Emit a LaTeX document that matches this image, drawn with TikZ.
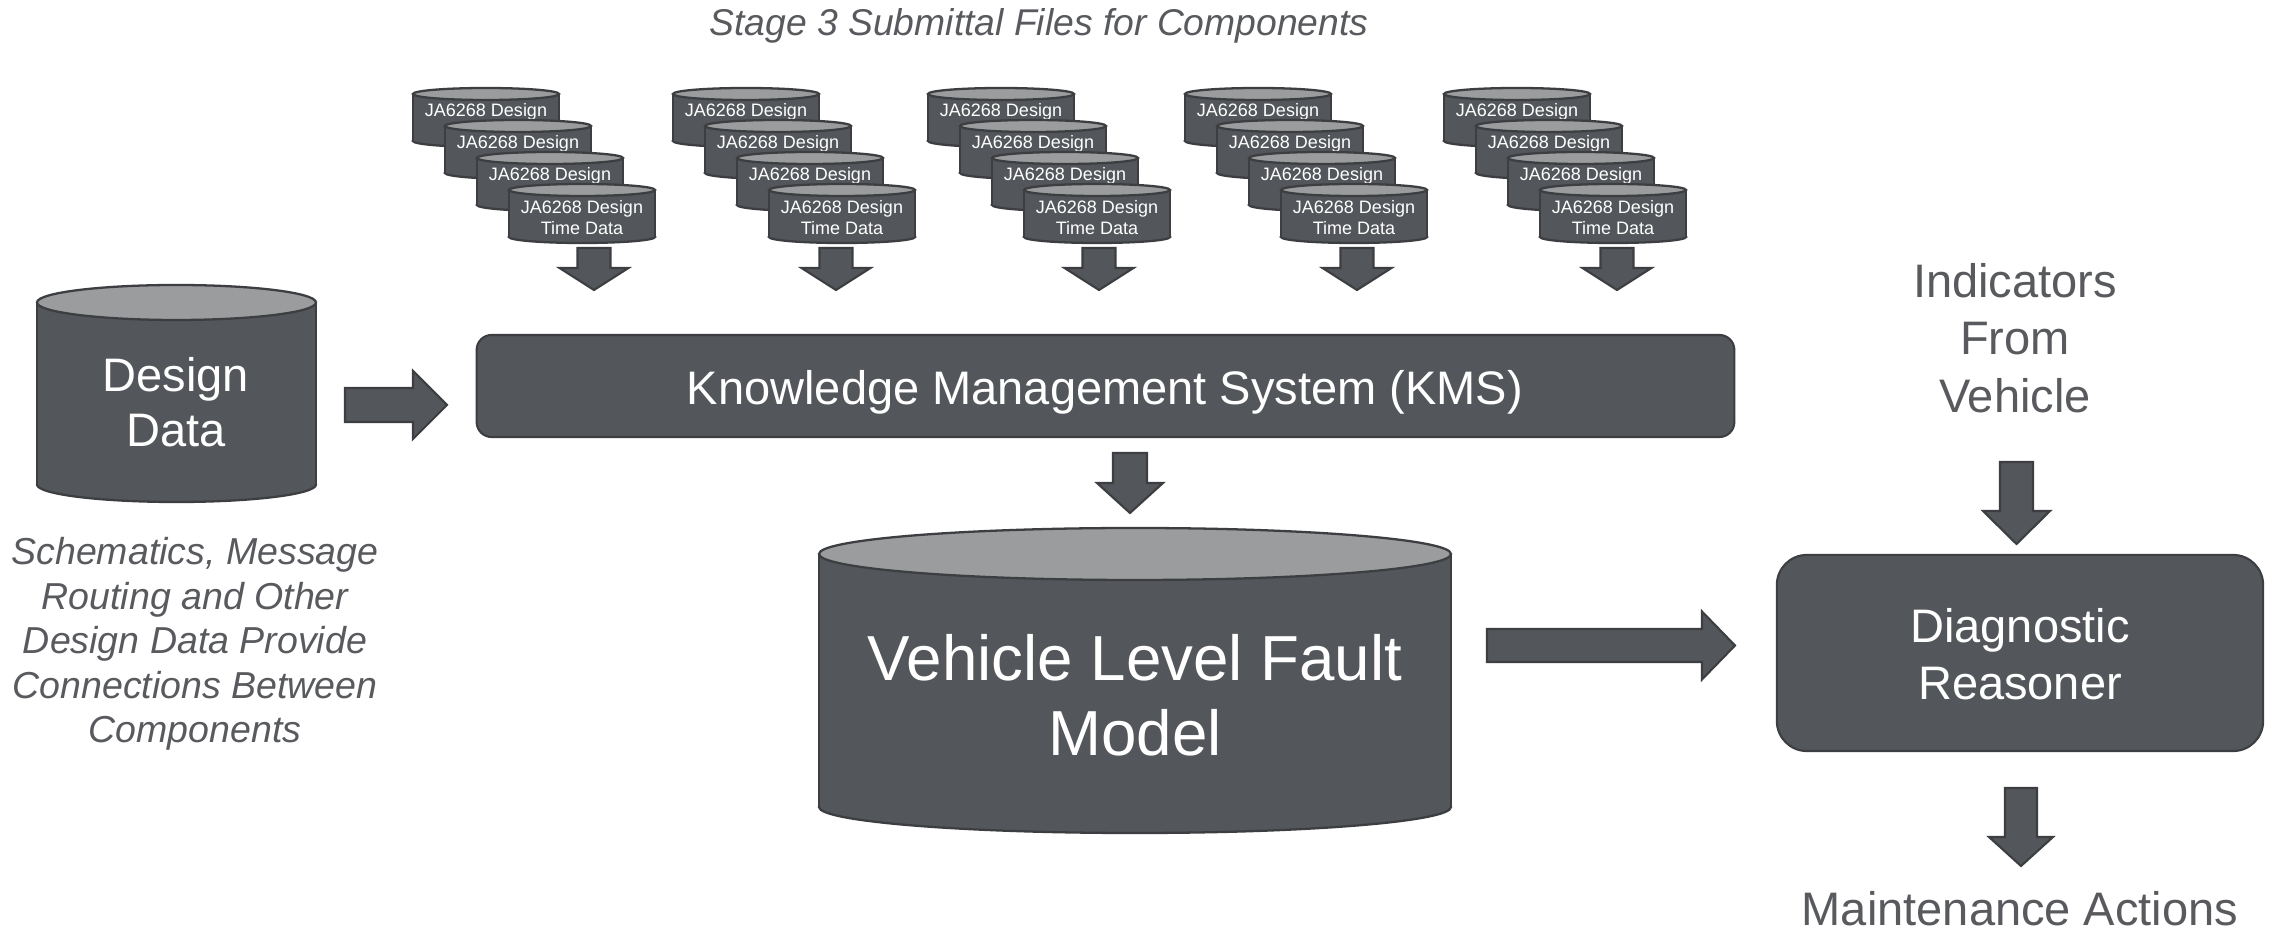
\documentclass[tikz,border=0pt]{standalone}
\usepackage{fontspec}
\setmainfont{Liberation Sans}
\usetikzlibrary{calc}
\definecolor{bodyc}{RGB}{83,86,90}
\definecolor{edgec}{RGB}{60,62,65}
\definecolor{topc}{RGB}{155,156,158}
\definecolor{txtc}{RGB}{88,90,94}
\tikzset{
  cylbody/.style={fill=bodyc, draw=edgec, line width=0.65pt},
  cyltop/.style={fill=topc, draw=edgec, line width=0.65pt},
  blkarrow/.style={fill=bodyc, draw=edgec, line width=0.6pt, line join=miter},
  rbox/.style={fill=bodyc, draw=edgec, line width=0.6pt, inner sep=0pt},
  wtxt/.style={text=white, inner sep=0pt, align=center},
  gtxt/.style={text=txtc, inner sep=0pt, align=center},
  smalltxt/.style={wtxt, font=\fontsize{5.12}{5.97}\selectfont},
  bigtxt/.style={font=\fontsize{13.37}{16.3}\selectfont},
}
% cylinder: cx, y of top-ellipse centre, y of bottom-ellipse centre, rx, ry
\newcommand\cyl[5]{%
  \draw[cylbody] (#1,#3) ellipse [x radius=#4, y radius=#5];
  \fill[bodyc] (#1-#4,#2) rectangle (#1+#4,#3);
  \draw[cylbody, fill=none] (#1-#4,#2) -- (#1-#4,#3) (#1+#4,#2) -- (#1+#4,#3);
  \draw[cyltop] (#1,#2) ellipse [x radius=#4, y radius=#5];
}
% down block arrow: start, tip, head length, shaft half width, head half width
\newcommand\dnarrow[5]{%
  \draw[blkarrow] ($(#1)+(-#4,0)$) -- ($(#2)+(-#4,-#3)$) -- ($(#2)+(-#5,-#3)$) -- (#2)
    -- ($(#2)+(#5,-#3)$) -- ($(#2)+(#4,-#3)$) -- ($(#1)+(#4,0)$) -- cycle;}
% right block arrow
\newcommand\rtarrow[5]{%
  \draw[blkarrow] ($(#1)+(0,-#4)$) -- ($(#2)+(-#3,-#4)$) -- ($(#2)+(-#3,-#5)$) -- (#2)
    -- ($(#2)+(-#3,#5)$) -- ($(#2)+(-#3,#4)$) -- ($(#1)+(0,#4)$) -- cycle;}
\begin{document}
\begin{tikzpicture}[x=0.01cm, y=-0.01cm]
\useasboundingbox (0,0) rectangle (2274,931);
\fill[white] (0,0) rectangle (2274,931);

% title
\node[gtxt, anchor=base, font=\fontsize{10.6}{12.7}\selectfont\itshape] (title) at (1039,36)
  {Stage 3 Submittal Files for Components};

% stacks of submittal files
\foreach \L [count=\s] in {413,673,928,1185,1444}{
  \foreach \i in {0,1,2}{
    \pgfmathsetmacro\cx{\L+73+32*\i}
    \pgfmathsetmacro\ty{88+32*\i}
    \cyl{\cx}{\ty+6}{\ty+53}{73}{6}
    \node[smalltxt, anchor=base] (s\s c\i) at (\cx,\ty+28.5) {JA6268 Design};
  }
  \pgfmathsetmacro\cx{\L+73+96}
  \cyl{\cx}{190}{237}{73}{6}
  \node[smalltxt] (s\s c3) at (\cx,217.5) {JA6268 Design\\Time Data};
}
\foreach \x [count=\s] in {594,836,1099,1357,1617}{
  \coordinate (sa\s) at (\x,248);
  \coordinate (st\s) at (\x,290);
  \dnarrow{sa\s}{st\s}{22}{16.5}{34.5}
}

% Design Data
\cyl{176.5}{302.5}{484.5}{139.5}{17.5}
\node[wtxt, bigtxt, font=\fontsize{13.37}{15.7}\selectfont] (dd) at (176,402.5) {Design\\Data};
\node[gtxt, font=\fontsize{10.67}{12.66}\selectfont\itshape] (ddnote) at (195,644)
  {Schematics, Message\\Routing and Other\\Design Data Provide\\Connections Between\\Components};

% KMS
\node[rbox, minimum width=12.57cm, minimum height=1.02cm, rounded corners=0.15cm] (kms) at (1105.5,386) {};
\node[wtxt, bigtxt, anchor=base] (kmslabel) at (1105,405) {Knowledge Management System (KMS)};

\coordinate (a1s) at (345,405);
\coordinate (a1e) at (447,405);
\rtarrow{a1s}{a1e}{34}{17}{34}

% Vehicle level fault model
\cyl{1135}{554}{807}{316}{26}
\node[wtxt, font=\fontsize{18.1}{21.3}\selectfont] (vlfm) at (1135,695) {Vehicle Level Fault\\Model};

\coordinate (a2s) at (1130,453);
\coordinate (a2e) at (1130,513);
\dnarrow{a2s}{a2e}{30}{17}{33}

% Diagnostic reasoner
\node[rbox, minimum width=4.86cm, minimum height=1.96cm, rounded corners=0.3cm] (diag) at (2020,653) {};
\node[wtxt, bigtxt] (diaglabel) at (2020,654.5) {Diagnostic\\Reasoner};

\coordinate (a3s) at (1487,645.5);
\coordinate (a3e) at (1735,645.5);
\rtarrow{a3s}{a3e}{33}{16.5}{34}

% Indicators
\node[gtxt, bigtxt] (ind) at (2015,338) {Indicators\\From\\Vehicle};
\coordinate (a4s) at (2016.5,462);
\coordinate (a4e) at (2016.5,544);
\dnarrow{a4s}{a4e}{33}{16.5}{33.5}

% Maintenance
\coordinate (a5s) at (2021,788);
\coordinate (a5e) at (2021,866);
\dnarrow{a5s}{a5e}{29}{16}{32}
\node[gtxt, bigtxt, anchor=base] (maint) at (2020,926) {Maintenance Actions};
\end{tikzpicture}
\end{document}
